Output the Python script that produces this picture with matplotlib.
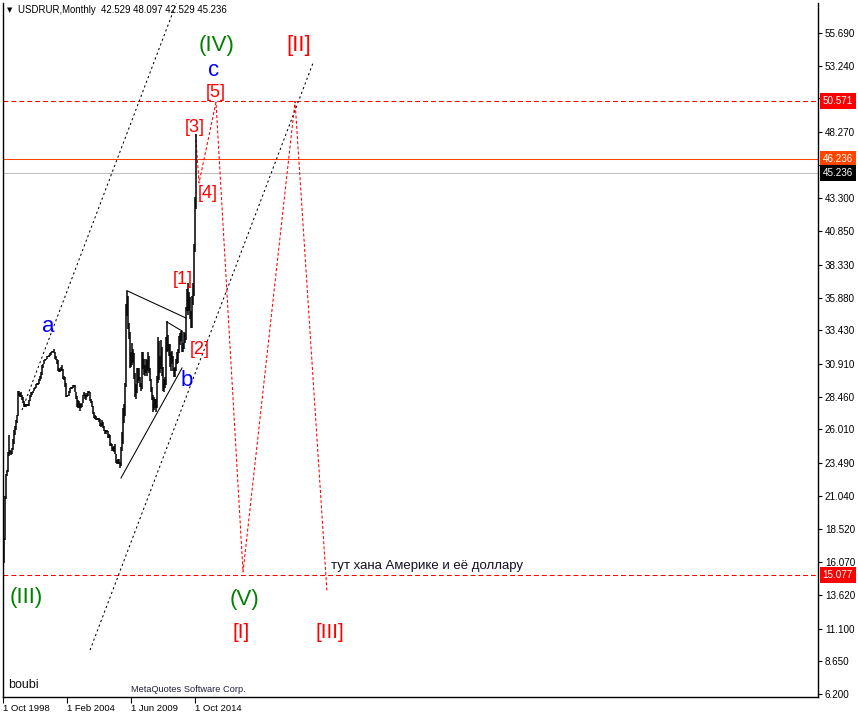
import matplotlib.pyplot as plt
from matplotlib.transforms import blended_transform_factory

plt.rcParams['lines.scale_dashes'] = False
plt.rcParams['font.family'] = ['Liberation Sans', 'DejaVu Sans']

# --------------------------------------------------------------------------- #
# Data: USDRUR monthly bars, index 0 = Oct 1998, last = Nov 2014
# --------------------------------------------------------------------------- #
lows = [
  15.8, 16.0, 17.7,
  20.8, 22.5, 22.8, 24.0, 24.2, 24.1, 24.2, 24.5, 24.9, 25.6, 26.0, 26.5,
  27.0, 28.5, 28.4, 28.4, 28.2, 28.0, 27.7, 27.7, 27.7, 27.8, 27.8, 27.8,
  28.1, 28.4, 28.6, 28.7, 28.9, 29.0, 29.1, 29.3, 29.3, 29.4, 29.6, 29.8,
  30.1, 30.6, 30.9, 31.1, 31.2, 31.3, 31.4, 31.4, 31.5, 31.6, 31.7, 31.8,
  31.7, 31.3, 31.2, 30.9, 30.4, 30.3, 30.3, 30.4, 30.4, 29.8, 29.7, 29.2,
  28.4, 28.4, 28.5, 28.5, 28.7, 29.0, 29.0, 29.1, 29.2, 28.8, 28.3, 27.7,
  27.6, 27.6, 27.4, 27.6, 27.7, 28.0, 28.5, 28.3, 28.2, 28.4, 28.5, 28.7,
  28.1, 28.0, 27.7, 27.2, 26.9, 26.8, 26.7, 26.7, 26.7, 26.6, 26.3, 26.2,
  26.3, 26.1, 25.9, 25.7, 25.7, 25.8, 25.4, 25.4, 24.8, 24.8, 24.4, 24.4,
  24.3, 24.2, 23.5, 23.4, 23.4, 23.4, 23.1, 23.3, 24.4, 24.9, 26.5, 27.0,
  29.2, 34.5, 33.5, 32.8, 30.6, 30.7, 30.8, 31.0, 29.8, 28.4, 28.3, 28.7,
  29.5, 29.6, 29.2, 28.9, 29.0, 30.5, 30.1, 30.0, 30.2, 30.0, 30.4, 30.2,
  29.6, 28.8, 28.2, 27.3, 27.5, 27.6, 27.3, 27.6, 29.5, 29.7, 30.2, 30.5,
  30.0, 28.9, 28.8, 29.1, 29.3, 31.8, 31.9, 31.5, 30.7, 30.4, 30.9, 30.4,
  29.9, 29.9, 30.4, 30.9, 31.0, 31.7, 32.3, 32.6, 31.8, 31.8, 32.0, 32.5,
  32.7, 34.9, 34.6, 34.9, 34.3, 33.6, 33.6, 35.3, 36.0, 39.3, 42.529,
]
highs = [
  16.2, 17.9, 21.0,
  22.7, 23.0, 24.3, 25.6, 24.5, 24.4, 24.6, 25.3, 26.0, 26.3, 26.7, 27.1,
  28.9, 28.9, 28.7, 28.8, 28.6, 28.4, 28.1, 27.9, 27.9, 27.9, 27.9, 28.2,
  28.6, 28.8, 28.8, 28.9, 29.1, 29.2, 29.4, 29.5, 29.5, 29.8, 30.0, 30.3,
  30.8, 30.9, 31.2, 31.3, 31.3, 31.5, 31.5, 31.6, 31.7, 31.8, 31.9, 31.9,
  32.0, 31.8, 31.5, 31.3, 31.2, 30.6, 30.5, 30.7, 30.8, 30.5, 30.0, 29.9,
  29.5, 28.6, 28.6, 28.9, 29.1, 29.2, 29.2, 29.3, 29.3, 29.3, 28.8, 28.5,
  28.2, 28.1, 28.0, 27.9, 28.0, 28.6, 28.8, 28.7, 28.6, 28.7, 28.9, 28.9,
  28.8, 28.3, 28.1, 27.8, 27.3, 27.1, 27.0, 26.9, 26.9, 26.9, 26.8, 26.5,
  26.7, 26.6, 26.3, 26.0, 26.0, 26.0, 25.9, 25.7, 25.6, 25.0, 24.9, 24.7,
  24.8, 24.9, 24.2, 23.7, 23.8, 23.8, 23.6, 24.7, 25.8, 27.6, 27.9, 29.5,
  35.4, 36.4, 36.0, 34.0, 33.3, 31.8, 32.5, 32.0, 31.7, 30.2, 29.4, 30.6,
  30.6, 30.6, 29.9, 29.5, 31.8, 31.8, 31.3, 30.8, 31.3, 31.2, 31.8, 31.5,
  30.6, 29.8, 29.2, 28.6, 28.4, 28.3, 28.3, 30.0, 32.9, 32.6, 31.5, 32.7,
  32.2, 30.7, 29.8, 29.9, 32.9, 34.1, 33.1, 32.4, 32.4, 31.8, 31.9, 31.5,
  30.6, 30.7, 31.3, 31.8, 32.0, 33.0, 33.2, 33.4, 33.4, 32.5, 33.3, 33.2,
  35.2, 36.5, 37.0, 36.3, 35.9, 34.9, 36.0, 37.0, 39.9, 43.4, 48.097,
]

dateTicks = [0, 64, 128, 192]
dateLabels = ["1 Oct 1998", "1 Feb 2004", "1 Jun 2009", "1 Oct 2014"]

priceTicks = [55.690, 53.240, 50.790, 48.270, 45.780, 43.300, 40.850, 38.330,
              35.880, 33.430, 30.910, 28.460, 26.010, 23.490, 21.040, 18.520,
              16.070, 13.620, 11.100, 8.650, 6.200]

# wave counting lines (month index, price)
channelUpper = [(19.0, 27.46), (200.0, 63.10)]
channelLower = [(87.2, 9.49), (310.6, 53.44)]
triUpper = [(124.0, 36.40), (183.4, 34.35)]
triLower = [(118.2, 22.37), (179.4, 30.61)]
triInner = [(164.3, 34.05), (179.4, 33.38)]
zigzagX = [193.0, 196.4, 213.4, 240.5, 292.6, 324.6]
zigzagY = [48.097, 44.46, 50.50, 15.33, 50.571, 13.84]

levelTarget = 50.571
levelBottom = 15.077
levelOrange = 46.236
levelBid = 45.236

# labels: text, month index, price, colour, size
waveLabels = [
  ("a", 45.1, 33.68, "#0000FF", 16),
  ("b", 184.4, 29.64, "#0000FF", 16),
  ("c", 211.4, 52.85, "#0000FF", 16),
  ("(IV)", 214.4, 54.72, "#008000", 16),
  ("(III)", 23.0, 13.39, "#008000", 16),
  ("(V)", 241.5, 13.24, "#008000", 16),
  ("[II]", 296.6, 54.72, "#FF0000", 16),
  ("[I]", 238.5, 10.77, "#FF0000", 15),
  ("[III]", 327.7, 10.77, "#FF0000", 15),
  ("[5]", 213.4, 51.20, "#FF0000", 13),
  ("[3]", 192.4, 48.65, "#FF0000", 13),
  ("[4]", 205.4, 43.64, "#FF0000", 13),
  ("[1]", 180.4, 37.27, "#FF0000", 13),
  ("[2]", 197.4, 32.03, "#FF0000", 13),
]

# --------------------------------------------------------------------------- #
# Plot
# --------------------------------------------------------------------------- #
W, H = 858, 715
fig = plt.figure(figsize=(W/100, H/100), dpi=100)
ax = fig.add_axes([3/W, 18/H, 815/W, 694/H])
ax.set_xlim(0, 816.6)
ax.set_ylim(5.975, 57.936)

lw = 0.75
fs = 7.1

# bars
ax.vlines(range(len(lows)), lows, highs, color='black', linewidth=1.1, zorder=3)

# levels
ax.axhline(levelTarget, color='#FF0000', lw=lw, ls=(0, (3.5, 2.2)), zorder=2)
ax.axhline(levelBottom, color='#FF0000', lw=lw, ls=(0, (3.5, 2.2)), zorder=2)
ax.axhline(levelOrange, color='#FF4500', lw=lw, zorder=2)
ax.axhline(levelBid, color='#C0C0C0', lw=lw, zorder=2)

# channel
for line in [channelUpper, channelLower]:
  ax.plot([line[0][0], line[1][0]], [line[0][1], line[1][1]], color='black',
          lw=lw, ls=(0, (1.6, 2.0)), zorder=2)

# triangle
for line in [triUpper, triLower, triInner]:
  ax.plot([line[0][0], line[1][0]], [line[0][1], line[1][1]], color='black',
          lw=lw, zorder=2)

# projection
ax.plot(zigzagX, zigzagY, color='#FF0000', lw=lw, ls=(0, (2.2, 1.5)), zorder=2)

for txt, x, y, c, s in waveLabels:
  ax.text(x, y, txt, color=c, fontsize=s, ha='center', va='center', zorder=5)

ax.text(328.7, 15.78, "тут хана Америке и её доллару", color='#101020',
        fontsize=9.5, ha='left', va='center', zorder=5)

# axes style
ax.spines['top'].set_visible(False)
for s in ['left', 'right', 'bottom']:
  ax.spines[s].set_linewidth(1.0)

ax.yaxis.tick_right()
ax.set_yticks(priceTicks)
ax.set_yticklabels(["{:.3f}".format(v) for v in priceTicks])
ax.tick_params(axis='y', direction='out', length=3, pad=2, labelsize=fs,
               width=0.8)
ax.set_xticks(dateTicks)
ax.set_xticklabels(dateLabels, ha='left')
ax.tick_params(axis='x', direction='out', length=4, pad=1, labelsize=6.8,
               width=0.8)

# price boxes on the scale
tr = blended_transform_factory(ax.transAxes, ax.transData)
boxes = [(levelTarget, '#FF0000', 'white'), (levelOrange, '#FF4500', 'white'),
         (levelBid, 'black', 'white'), (levelBottom, '#FF0000', 'white')]
for v, fc, tc in boxes:
  ax.text(1.0055, v, "{:.3f}".format(v), transform=tr, color=tc, fontsize=fs,
          ha='left', va='center', zorder=6, clip_on=False,
          bbox=dict(boxstyle='square,pad=0.3', fc=fc, ec='none'))

# header and footer text
fig.text(10/W, 1 - 10/H, "▼", fontsize=5, ha='center', va='center',
         family='DejaVu Sans')
fig.text(18/W, 1 - 10/H, "USDRUR,Monthly  42.529 48.097 42.529 45.236",
         fontsize=6.9, ha='left', va='center')
fig.text(8/W, 1 - 685/H, "boubi", fontsize=9, ha='left', va='center',
         color='#101010')
fig.text(131/W, 1 - 689/H, "MetaQuotes Software Corp.", fontsize=6.7,
         ha='left', va='center', color='#202040')

fig.savefig("out.png", dpi=100)
